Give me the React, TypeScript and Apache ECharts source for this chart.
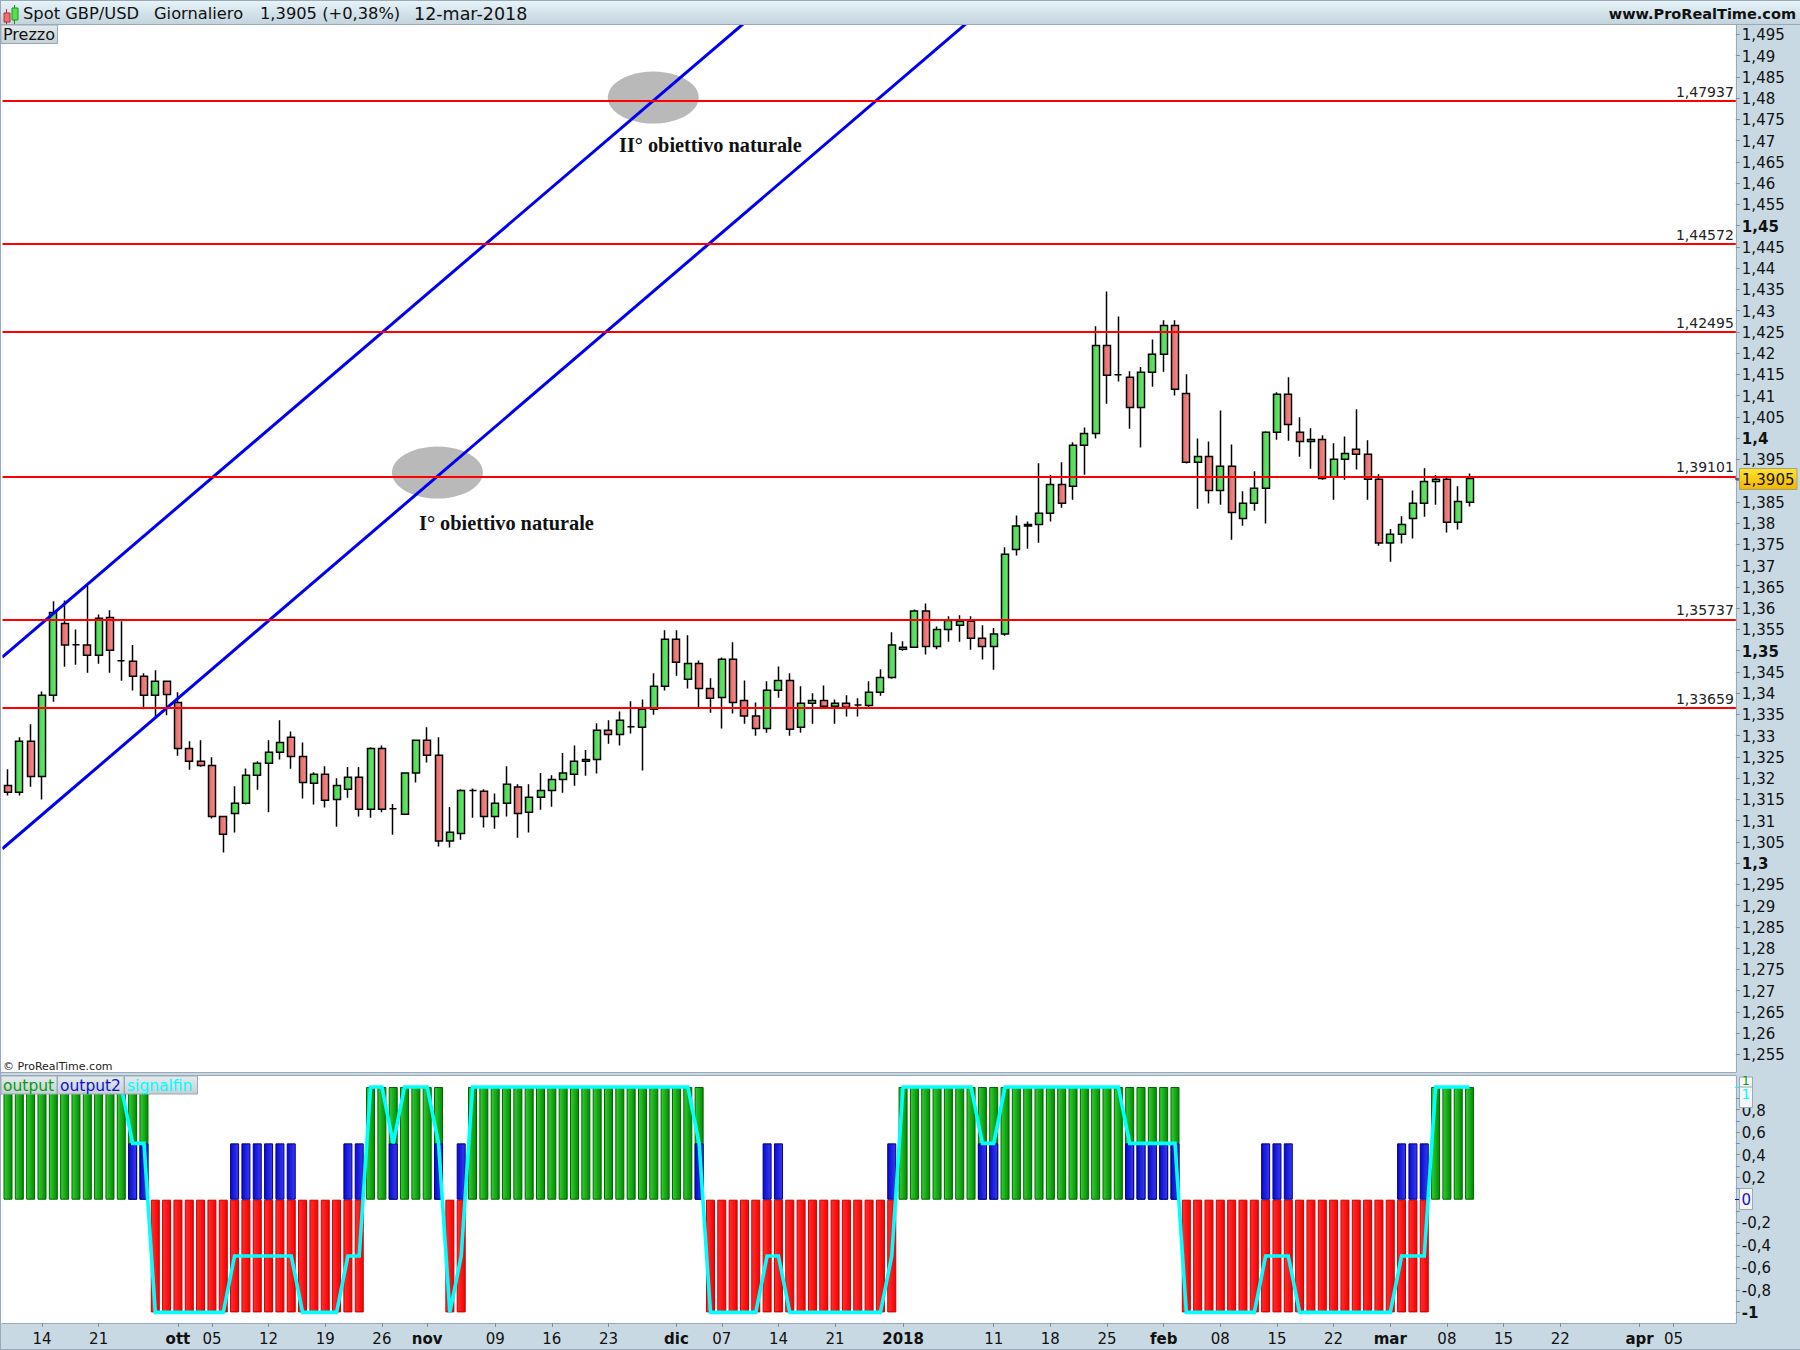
import React, { useEffect, useRef } from "react";
import * as echarts from "echarts";

const _ = null;
const opens = [
  1.3183,1.3167,1.3287,1.3204,1.3395,1.3564,1.3514,1.3513,1.3489,1.3578,
  1.3476,1.3475,1.3440,1.3395,1.3428,1.3378,1.3270,1.3240,1.3230,1.3110,
  1.3117,1.3141,1.3207,1.3235,1.3261,1.3296,1.3251,1.3188,1.3209,1.3150,
  1.3174,1.3202,1.3127,1.3270,1.3128,1.3115,1.3212,1.3289,1.3254,1.3052,
  1.3070,1.3171,1.3169,1.3110,1.3141,1.3179,1.3120,1.3155,1.3171,1.3197,
  1.3209,1.3240,1.3244,1.3313,1.3303,1.3321,1.3320,1.3362,1.3416,1.3527,
  1.3433,1.3470,1.3411,1.3390,1.3480,1.3383,1.3346,1.3317,1.3407,1.3430,
  1.3320,1.3376,1.3383,1.3369,1.3376,1.3372,1.3371,1.3402,1.3437,1.3503,
  1.3508,1.3593,1.3510,1.3550,1.3560,1.3569,1.3529,1.3510,1.3539,1.3738,
  1.3793,1.3797,1.3823,1.3891,1.3887,1.3983,1.4011,1.4218,1.4149,1.4143,
  1.4072,1.4155,1.4197,1.4265,1.4105,1.3943,1.3957,1.3877,1.3934,1.3811,
  1.3847,1.3882,1.4014,1.4103,1.4014,1.3992,1.3997,1.3908,1.3950,1.3974,
  1.3962,1.3903,1.3753,1.3774,1.3811,1.3847,1.3898,1.3903,1.3802,1.3849,
];
const closes = [
  1.3167,1.3287,1.3204,1.3395,1.3590,1.3513,1.3514,1.3489,1.3576,1.3501,
  1.3476,1.3440,1.3395,1.3428,1.3397,1.3270,1.3240,1.3230,1.3110,1.3068,
  1.3141,1.3207,1.3235,1.3261,1.3284,1.3251,1.3190,1.3209,1.3148,1.3183,
  1.3202,1.3127,1.3270,1.3127,1.3128,1.3212,1.3289,1.3254,1.3052,1.3073,
  1.3171,1.3171,1.3110,1.3141,1.3186,1.3117,1.3155,1.3171,1.3197,1.3212,
  1.3240,1.3244,1.3313,1.3303,1.3336,1.3321,1.3362,1.3416,1.3527,1.3473,
  1.3470,1.3411,1.3388,1.3480,1.3378,1.3346,1.3317,1.3407,1.3430,1.3315,
  1.3376,1.3383,1.3369,1.3376,1.3367,1.3372,1.3402,1.3437,1.3513,1.3508,
  1.3593,1.3510,1.3550,1.3571,1.3569,1.3529,1.3510,1.3539,1.3727,1.3793,
  1.3797,1.3823,1.3891,1.3847,1.3983,1.4011,1.4218,1.4148,1.4149,1.4072,
  1.4155,1.4197,1.4265,1.4115,1.3943,1.3957,1.3877,1.3934,1.3825,1.3847,
  1.3882,1.4014,1.4103,1.4032,1.3992,1.3997,1.3905,1.3950,1.3964,1.3962,
  1.3903,1.3753,1.3774,1.3797,1.3847,1.3898,1.3903,1.3802,1.3851,1.3905,
];
const lows = [
  1.3159,1.3159,1.3180,1.3150,1.3380,1.3462,1.3467,1.3448,1.3469,1.3448,
  1.3429,1.3406,1.3362,1.3343,1.3348,1.3253,1.3220,1.3227,1.3105,1.3025,
  1.3072,1.3138,1.3173,1.3120,1.3244,1.3222,1.3152,1.3138,1.3131,1.3086,
  1.3154,1.3110,1.3107,1.3120,1.3067,1.3115,1.3190,1.3237,1.3039,1.3037,
  1.3055,1.3107,1.3084,1.3081,1.3110,1.3060,1.3072,1.3126,1.3133,1.3166,
  1.3182,1.3206,1.3211,1.3281,1.3277,1.3305,1.3218,1.3349,1.3406,1.3441,
  1.3411,1.3367,1.3354,1.3317,1.3352,1.3328,1.3300,1.3307,1.3389,1.3300,
  1.3307,1.3328,1.3368,1.3328,1.3345,1.3345,1.3367,1.3394,1.3434,1.3500,
  1.3506,1.3491,1.3503,1.3521,1.3521,1.3502,1.3479,1.3455,1.3535,1.3724,
  1.3740,1.3754,1.3804,1.3836,1.3855,1.3914,1.3999,1.4081,1.4133,1.4022,
  1.3978,1.4121,1.4156,1.4100,1.3940,1.3834,1.3846,1.3843,1.3761,1.3794,
  1.3829,1.3799,1.3996,1.3994,1.3956,1.3928,1.3902,1.3855,1.3902,1.3926,
  1.3855,1.3747,1.3709,1.3752,1.3764,1.3815,1.3843,1.3778,1.3785,1.3839,
];
const highs = [
  1.3221,1.3296,1.3327,1.3404,1.3616,1.3618,1.3550,1.3652,1.3585,1.3595,
  1.3569,1.3513,1.3447,1.3454,1.3428,1.3402,1.3287,1.3289,1.3249,1.3110,
  1.3181,1.3223,1.3240,1.3289,1.3336,1.3310,1.3284,1.3214,1.3228,1.3200,
  1.3226,1.3226,1.3273,1.3277,1.3139,1.3214,1.3291,1.3320,1.3296,1.3132,
  1.3174,1.3176,1.3174,1.3164,1.3228,1.3186,1.3186,1.3212,1.3207,1.3259,
  1.3277,1.3266,1.3329,1.3336,1.3357,1.3381,1.3385,1.3447,1.3548,1.3548,
  1.3536,1.3477,1.3435,1.3484,1.3520,1.3430,1.3378,1.3428,1.3463,1.3447,
  1.3416,1.3400,1.3418,1.3385,1.3395,1.3388,1.3428,1.3456,1.3543,1.3522,
  1.3597,1.3611,1.3557,1.3581,1.3583,1.3581,1.3560,1.3553,1.3743,1.3818,
  1.3804,1.3941,1.3913,1.3943,1.3990,1.4025,1.4263,1.4345,1.4286,1.4157,
  1.4167,1.4232,1.4277,1.4277,1.4150,1.3999,1.3992,1.4065,1.3985,1.3875,
  1.3922,1.4016,1.4108,1.4143,1.4049,1.4023,1.4007,1.3988,1.4004,1.4068,
  1.3995,1.3915,1.3786,1.3816,1.3877,1.3929,1.3913,1.3908,1.3887,1.3917,
];

const output = [
  1,1,1,1,1,1,1,1,1,1,
  1,1,1,-1,-1,-1,-1,-1,-1,-1,
  -1,-1,-1,-1,-1,-1,-1,-1,-1,-1,
  -1,-1,1,1,1,1,1,1,1,-1,
  -1,1,1,1,1,1,1,1,1,1,
  1,1,1,1,1,1,1,1,1,1,
  1,1,-1,-1,-1,-1,-1,-1,-1,-1,
  -1,-1,-1,-1,-1,-1,-1,-1,-1,1,
  1,1,1,1,1,1,1,1,1,1,
  1,1,1,1,1,1,1,1,1,1,
  1,1,1,1,-1,-1,-1,-1,-1,-1,
  -1,-1,-1,-1,-1,-1,-1,-1,-1,-1,
  -1,-1,-1,-1,-1,-1,1,1,1,1,
];
const output2 = [
  _,_,_,_,_,_,_,_,_,_,
  _,.5,.5,_,_,_,_,_,_,_,
  .5,.5,.5,.5,.5,.5,_,_,_,_,
  .5,.5,_,_,.5,_,_,_,.5,_,
  .5,_,_,_,_,_,_,_,_,_,
  _,_,_,_,_,_,_,_,_,_,
  _,.5,_,_,_,_,_,.5,.5,_,
  _,_,_,_,_,_,_,_,.5,_,
  _,_,_,_,_,_,.5,.5,_,_,
  _,_,_,_,_,_,_,_,_,.5,
  .5,.5,.5,.5,_,_,_,_,_,_,
  _,.5,.5,.5,_,_,_,_,_,_,
  _,_,_,.5,.5,.5,_,_,_,_,
];
const signalfin = [
  1,1,1,1,1,1,1,1,1,1,
  1,.5,.5,-1,-1,-1,-1,-1,-1,-1,
  -.5,-.5,-.5,-.5,-.5,-.5,-1,-1,-1,-1,
  -.5,-.5,1,1,.5,1,1,1,.5,-1,
  -.5,1,1,1,1,1,1,1,1,1,
  1,1,1,1,1,1,1,1,1,1,
  1,.5,-1,-1,-1,-1,-1,-.5,-.5,-1,
  -1,-1,-1,-1,-1,-1,-1,-1,-.5,1,
  1,1,1,1,1,1,.5,.5,1,1,
  1,1,1,1,1,1,1,1,1,.5,
  .5,.5,.5,.5,-1,-1,-1,-1,-1,-1,
  -1,-.5,-.5,-.5,-1,-1,-1,-1,-1,-1,
  -1,-1,-1,-.5,-.5,-.5,1,1,1,1,
];

const levels = [1.47937, 1.44572, 1.42495, 1.39101, 1.35737, 1.33659];
const channelUpper = [[-0.5, 1.3485], [65, 1.4977]];
const channelLower = [[-0.5, 1.3034], [85, 1.4985]];
const targets = [[37.9, 1.3919], [56.95, 1.4801]];

const slotCount = 153;
const tickIndex = [3,8,15,18,23,28,33,37,43,48,53,59,63,68,73,79,87,92,97,102,107,112,117,122,127,132,137,144,147];
const tickText = ["14","21","ott","05","12","19","26","nov","09","16","23","dic","07","14","21","2018","11","18","25","feb","08","15","22","mar","08","15","22","apr","05"];
const boldDates = ["ott","nov","dic","2018","feb","mar","apr"];
const priceTicks = [
  1.255,1.26,1.265,1.27,1.275,1.28,1.285,1.29,1.295,1.3,1.305,1.31,1.315,1.32,1.325,
  1.33,1.335,1.34,1.345,1.35,1.355,1.36,1.365,1.37,1.375,1.38,1.385,1.39,1.395,1.4,
  1.405,1.41,1.415,1.42,1.425,1.43,1.435,1.44,1.445,1.45,1.455,1.46,1.465,1.47,1.475,
  1.48,1.485,1.49,1.495,
];
const priceLabels = priceTicks.filter((v) => v !== 1.39);
const boldPrices = [1.3, 1.35, 1.4, 1.45];
const oscTicks = [-1,-0.9,-0.8,-0.7,-0.6,-0.5,-0.4,-0.3,-0.2,-0.1,0,0.1,0.2,0.3,0.4,0.5,0.6,0.7,0.8,0.9,1];
const oscLabels = [-1,-0.8,-0.6,-0.4,-0.2,0.2,0.4,0.6,0.8];

const FONT = "DejaVu Sans";
const BORDER = "#9aa9b5";
const comma = (v: number) => String(v).replace(".", ",");
const hGrad = (a: string, b: string) =>
  new echarts.graphic.LinearGradient(0, 0, 1, 0, [{ offset: 0, color: a }, { offset: 1, color: b }]);
const vGrad = (a: string, b: string) =>
  new echarts.graphic.LinearGradient(0, 0, 0, 1, [{ offset: 0, color: a }, { offset: 1, color: b }]);

const txt = (x: number, y: number, text: string, fill: string, fontSize: number, extra: any = {}) => ({
  type: "text", x, y, z: 100, silent: true,
  style: { text, fill, fontSize, fontFamily: FONT, textVerticalAlign: "middle", verticalAlign: "middle", ...extra },
});
const box = (x: number, y: number, width: number, height: number, fill: any, stroke: any = BORDER, z = 99) => ({
  type: "rect", z, silent: true, shape: { x, y, width, height },
  style: { fill, stroke, lineWidth: stroke ? 1 : 0 },
});

function buildOption() {
  const categories = Array.from({ length: slotCount }, () => "");
  tickIndex.forEach((i, k) => { categories[i] = tickText[k]; });
  const candleData = opens.map((o, i) => [o, closes[i], lows[i], highs[i]]);
  const legendGrad = () => vGrad("#e4ebee", "#c4d0d7");

  const left = 2.33, width = 1733.5;
  return {
    animation: false,
    backgroundColor: "#c9d9e3",
    grid: [
      { left, width, top: 25, height: 1047, show: true, backgroundColor: "#fff", borderWidth: 0 },
      { left, width, top: 1076, height: 247, show: true, backgroundColor: "#fff", borderWidth: 0 },
    ],
    xAxis: [
      { type: "category", gridIndex: 0, data: categories, show: false },
      {
        type: "category", gridIndex: 1, data: categories, position: "bottom",
        axisLine: { show: true, onZero: false, lineStyle: { color: BORDER, width: 1 } },
        axisTick: { show: true, alignWithLabel: true, length: 4, lineStyle: { color: "#7f8f9b" },
          interval: (i: number) => categories[i] !== "" },
        axisLabel: {
          show: true, interval: (i: number) => categories[i] !== "", margin: 8,
          fontFamily: FONT, fontSize: 15, color: "#111",
          formatter: (v: string) => (boldDates.includes(v) ? `{b|${v}}` : v),
          rich: { b: { fontFamily: FONT, fontSize: 15, fontWeight: "bold", color: "#111" } },
        },
      },
      { type: "value", gridIndex: 0, min: -0.5, max: slotCount - 0.5, show: false, position: "top", axisLine: { onZero: false } },
    ],
    yAxis: [
      {
        type: "value", gridIndex: 0, position: "right", min: 1.25088, max: 1.49718, scale: true,
        splitLine: { show: false },
        axisLine: { show: true, onZero: false, lineStyle: { color: BORDER, width: 1 } },
        axisTick: { show: true, length: 4, customValues: priceTicks, lineStyle: { color: "#7f8f9b" } },
        axisLabel: {
          show: true, margin: 6, customValues: priceLabels, fontFamily: FONT, fontSize: 15, color: "#111",
          padding: [2, 0, 0, 0],
          formatter: (v: number) => (boldPrices.includes(v) ? `{b|${comma(v)}}` : comma(v)),
          rich: { b: { fontFamily: FONT, fontSize: 15, fontWeight: "bold", color: "#111" } },
        },
      },
      {
        type: "value", gridIndex: 1, position: "right", min: -1.094, max: 1.0976, scale: true,
        splitLine: { show: false },
        axisLine: { show: true, onZero: false, lineStyle: { color: BORDER, width: 1 } },
        axisTick: { show: true, length: 4, customValues: oscTicks, lineStyle: { color: "#7f8f9b" } },
        axisLabel: {
          show: true, margin: 6, customValues: oscLabels, fontFamily: FONT, fontSize: 15, color: "#111",
          padding: [2, 0, 0, 0],
          formatter: (v: number) => (v === -1 ? `{b|${comma(v)}}` : comma(v)),
          rich: { b: { fontFamily: FONT, fontSize: 15, fontWeight: "bold", color: "#111" } },
        },
      },
    ],
    series: [
      {
        name: "targets", type: "scatter", xAxisIndex: 2, yAxisIndex: 0, z: 1, silent: true,
        data: targets, symbol: "circle", symbolSize: [91, 52],
        itemStyle: { color: "#b9b9b9", opacity: 1 },
      },
      {
        name: "Spot GBP/USD", type: "candlestick", xAxisIndex: 0, yAxisIndex: 0, z: 2, silent: true,
        data: candleData, barWidth: 7.5,
        itemStyle: {
          color: hGrad("#48d254", "#68ee66"), color0: hGrad("#e06666", "#f88f8f"),
          borderColor: "#000", borderColor0: "#000", borderColorDoji: "#000", borderWidth: 1.5,
        },
        markLine: {
          silent: true, symbol: "none", animation: false, z: 4, precision: 5,
          lineStyle: { color: "#ff0000", width: 2, type: "solid" },
          label: {
            show: true, position: "insideEndTop", distance: [2, 2],
            fontFamily: FONT, fontSize: 14, color: "#222",
            formatter: (p: any) => comma(p.value),
          },
          data: levels.map((y) => ({ yAxis: y })),
        },
      },
      {
        name: "channel upper", type: "line", xAxisIndex: 2, yAxisIndex: 0, z: 3, silent: true,
        data: channelUpper, symbol: "none", clip: true,
        lineStyle: { color: "#0000ee", width: 3 },
      },
      {
        name: "channel lower", type: "line", xAxisIndex: 2, yAxisIndex: 0, z: 3, silent: true,
        data: channelLower, symbol: "none", clip: true,
        lineStyle: { color: "#0000ee", width: 3 },
      },
      {
        name: "output", type: "bar", xAxisIndex: 1, yAxisIndex: 1, z: 2, silent: true,
        barWidth: 9, barGap: "-100%",
        data: output.map((v) => ({
          value: v,
          itemStyle: v > 0
            ? { color: hGrad("#35cf35", "#008a00"), borderColor: "#006400", borderWidth: 1 }
            : { color: hGrad("#ff3030", "#f60000"), borderColor: "#c40000", borderWidth: 1 },
        })),
      },
      {
        name: "output2", type: "bar", xAxisIndex: 1, yAxisIndex: 1, z: 2, silent: true,
        barWidth: 9, barGap: "-100%",
        data: output2,
        itemStyle: { color: hGrad("#0a0acc", "#3838f5"), borderColor: "#00008b", borderWidth: 1 },
      },
      {
        name: "signalfin", type: "line", xAxisIndex: 1, yAxisIndex: 1, z: 5, silent: true,
        data: signalfin, symbol: "none",
        lineStyle: { color: "#00ffff", width: 3.6, join: "miter" },
      },
    ],
    graphic: { elements: [
      // title bar
      box(0, 0, 1800, 24, vGrad("#e8f5fa", "#c3d3dd"), null, 90),
      { type: "rect", z: 91, silent: true, shape: { x: 0, y: 0, width: 1800, height: 1 }, style: { fill: BORDER } },
      { type: "rect", z: 91, silent: true, shape: { x: 0, y: 24, width: 1800, height: 1 }, style: { fill: BORDER } },
      // borders
      { type: "rect", z: 91, silent: true, shape: { x: 1, y: 25, width: 1.33, height: 1047 }, style: { fill: "#fff" } },
      { type: "rect", z: 91, silent: true, shape: { x: 1, y: 1076, width: 1.33, height: 247 }, style: { fill: "#fff" } },
      { type: "rect", z: 92, silent: true, shape: { x: 0, y: 0, width: 1, height: 1350 }, style: { fill: BORDER } },
      { type: "rect", z: 92, silent: true, shape: { x: 0, y: 1072, width: 1736, height: 1 }, style: { fill: BORDER } },
      { type: "rect", z: 92, silent: true, shape: { x: 0, y: 1075, width: 1736, height: 1 }, style: { fill: BORDER } },
      { type: "rect", z: 92, silent: true, shape: { x: 0, y: 1349, width: 1800, height: 1 }, style: { fill: BORDER } },
      // logo
      { type: "line", z: 100, silent: true, shape: { x1: 6.5, y1: 9, x2: 6.5, y2: 24 }, style: { stroke: "#d02020", lineWidth: 1 } },
      box(4, 13, 6, 9, "#ee7070", "#b03030", 101),
      { type: "line", z: 100, silent: true, shape: { x1: 14.5, y1: 5, x2: 14.5, y2: 24 }, style: { stroke: "#109010", lineWidth: 1 } },
      box(12, 8, 6, 12, "#55e055", "#209020", 101),
      // title texts
      txt(23, 13.5, "Spot GBP/USD", "#111", 16.3),
      txt(154, 13.5, "Giornaliero", "#111", 16.3),
      txt(260, 13.5, "1,3905 (+0,38%)", "#111", 16.3),
      txt(414, 13.5, "12-mar-2018", "#111", 17.5),
      txt(1796, 13.5, "www.ProRealTime.com", "#111", 14.5, { textAlign: "right", align: "right", fontWeight: "bold" }),
      // pane tags
      box(1, 25, 56.5, 18.5, legendGrad()),
      txt(3, 34.5, "Prezzo", "#111", 16),
      box(1, 1076, 56, 18, legendGrad()),
      txt(3, 1085.5, "output", "#0a9a0a", 15.5),
      box(57.5, 1076, 66.5, 18, legendGrad()),
      txt(60, 1085.5, "output2", "#1111cc", 15.5),
      box(124.5, 1076, 73, 18, legendGrad()),
      txt(127, 1085.5, "signalfin", "#00ffff", 15.5),
      txt(3, 1066, "© ProRealTime.com", "#222", 11),
      // annotations
      txt(619, 145, "II° obiettivo naturale", "#111", 20.3, { fontFamily: "Liberation Serif", fontWeight: "bold" }),
      txt(419, 523, "I° obiettivo naturale", "#111", 20.3, { fontFamily: "Liberation Serif", fontWeight: "bold" }),
      // last price tag
      { type: "rect", z: 99, silent: true, shape: { x: 1735, y: 478.5, width: 5, height: 1 }, style: { fill: "#000" } },
      box(1739.5, 468.5, 57.5, 21, vGrad("#ffe233", "#f3b500"), "#a8a27a"),
      txt(1742, 479.5, "1,3905", "#111", 15),
      // oscillator tags
      { type: "rect", z: 98, silent: true, shape: { x: 1735, y: 1087, width: 5, height: 1 }, style: { fill: "#00ffff" } },
      { type: "rect", z: 98, silent: true, shape: { x: 1735, y: 1199, width: 5, height: 1 }, style: { fill: "#1111cc" } },
      box(1739.5, 1077, 13, 12, "#f4f6f7"),
      txt(1742, 1081, "1", "#0a9a0a", 12),
      box(1739.5, 1087, 13, 20.5, "#f4f6f7", BORDER, 102),
      { ...txt(1741.5, 1094, "1", "#00ffff", 14), z: 103 },
      box(1739.5, 1188.5, 13, 21, "#f4f6f7"),
      txt(1741.5, 1199.5, "0", "#1111cc", 15),
    ] },
  };
}

export default function App() {
  const ref = useRef<HTMLDivElement>(null);
  useEffect(() => {
    document.body.style.margin = "0";
    const chart = echarts.init(ref.current!, undefined, { renderer: "svg" });
    chart.setOption(buildOption() as any);
    return () => chart.dispose();
  }, []);
  return <div ref={ref} style={{ width: 1800, height: 1350 }} />;
}
